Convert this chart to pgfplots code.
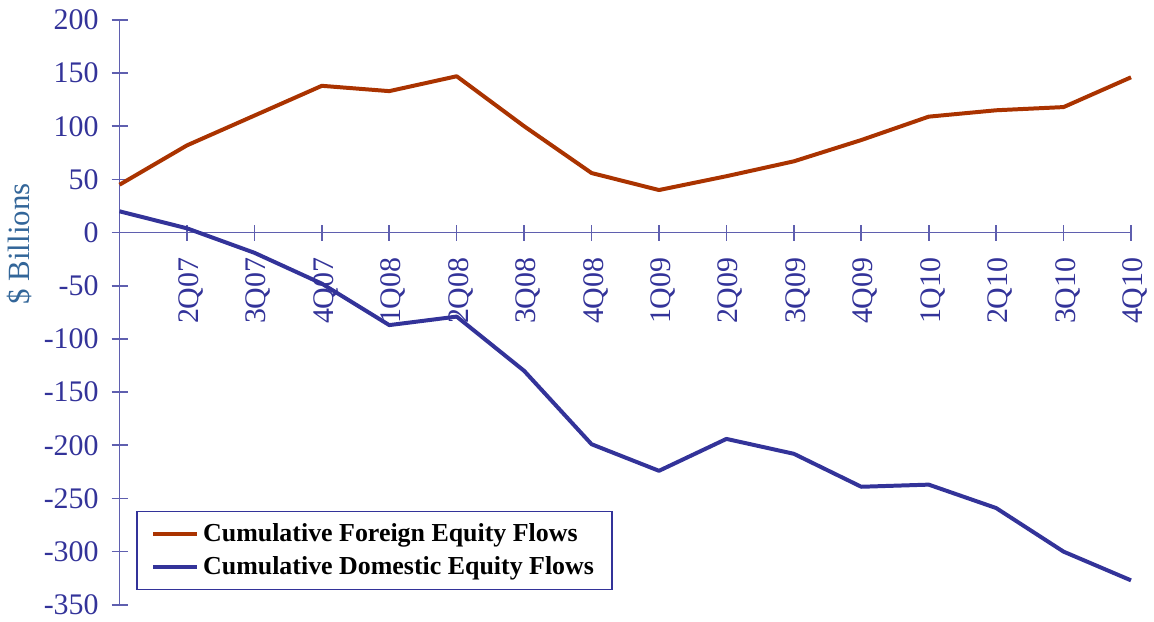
\documentclass[border=0pt]{standalone}
\usepackage{pgfplots}
\pgfplotsset{compat=1.18}
\usepackage{fontspec}
\setmainfont{Liberation Serif}
\definecolor{foreign}{RGB}{170,51,0}
\definecolor{domestic}{RGB}{51,51,153}
\definecolor{axisblue}{RGB}{95,95,175}
\definecolor{labelblue}{RGB}{51,51,153}
\definecolor{ylab}{RGB}{51,102,153}
\begin{document}
\begin{tikzpicture}
\begin{axis}[
  scale only axis,
  width=507.5pt, height=293.5pt,
  xmin=0, xmax=15, ymin=-350, ymax=200,
  axis x line=middle, axis y line=left,
  axis line style={axisblue, line width=0.8pt, -},
  every tick/.style={axisblue, line width=0.8pt},
  major tick length=8pt, tick align=center,
  ytick={-350,-300,...,200},
  xtick={1,...,15},
  xticklabels={2Q07,3Q07,4Q07,1Q08,2Q08,3Q08,4Q08,1Q09,2Q09,3Q09,4Q09,1Q10,2Q10,3Q10,4Q10},
  xticklabel style={rotate=90, anchor=east, font=\fontsize{15}{17}\selectfont, text=labelblue, xshift=-5pt, yshift=-2pt},
  yticklabel style={font=\fontsize{15}{17}\selectfont, text=labelblue, xshift=-3pt},
  /pgf/number format/assume math mode=true,
  /pgf/number format/1000 sep={},
  ylabel={\$ Billions},
  ylabel style={at={(axis description cs:-0.0985,0.617)}, anchor=center, rotate=0, font=\fontsize{15.5}{17}\selectfont, text=ylab},
  legend style={at={(rel axis cs:0.0167,0.0256)}, anchor=south west, draw=labelblue, line width=0.6pt, font=\fontsize{13}{15}\selectfont\bfseries, inner xsep=7pt, inner ysep=4pt, row sep=2pt},
  legend cell align=left,
  legend image code/.code={\draw[#1, line width=2.2pt] (0pt,0pt) -- (22pt,0pt);},
  clip=false,
]
\addplot[foreign, line width=2pt, line join=round] coordinates {
(0,45) (1,82) (2,110) (3,138) (4,133) (5,147) (6,100) (7,56) (8,40) (9,53) (10,67) (11,87) (12,109) (13,115) (14,118) (15,146)
};
\addlegendentry{Cumulative Foreign Equity Flows}
\addplot[domestic, line width=2pt, line join=round] coordinates {
(0,20) (1,4) (2,-19) (3,-48) (4,-87) (5,-79) (6,-130) (7,-199) (8,-224) (9,-194) (10,-208) (11,-239) (12,-237) (13,-259) (14,-300) (15,-327)
};
\addlegendentry{Cumulative Domestic Equity Flows}
\path (rel axis cs:-0.1182,-0.0221) rectangle (rel axis cs:1.0187,1.034);
\end{axis}
\end{tikzpicture}
\end{document}
